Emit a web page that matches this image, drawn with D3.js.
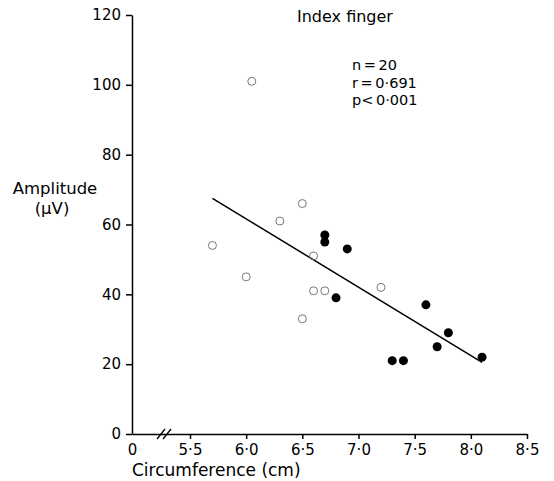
<!DOCTYPE html>
<html>
<head>
<meta charset="utf-8">
<script src="https://cdn.jsdelivr.net/npm/d3@7"></script>
<style>
    body { margin: 0; background: #fff; }
    text { font-family: "DejaVu Sans", sans-serif; fill: #000; }
    .axis path, .axis line { stroke: #000; stroke-width: 1.5; }
    .axis text { font-size: 15px; font-family: "DejaVu Sans", sans-serif; }
</style>
</head>
<body>
<svg width="554" height="481"></svg>
<script>
// Open circles (circumference cm, amplitude uV)
var openX = [6.05, 5.7, 6.0, 6.5, 6.3, 6.6, 6.6, 6.7, 6.5, 7.2];
var openY = [101, 54, 45, 66, 61, 51, 41, 41, 33, 42];
// Filled circles
var filledX = [6.7, 6.7, 6.9, 6.8, 7.6, 7.8, 7.7, 7.3, 7.4, 8.1];
var filledY = [57, 55, 53, 39, 37, 29, 25, 21, 21, 22];
// Regression line end points
var fitX = [5.7, 8.1];
var fitY = [67.5, 20.5];

var xTicks = [0, 5.5, 6.0, 6.5, 7.0, 7.5, 8.0, 8.5];
var yTicks = [0, 20, 40, 60, 80, 100, 120];
var statLines = ['n = 20', 'r = 0\u00b7691', 'p< 0\u00b7001'];

var svg = d3.select('svg');

// x axis is broken between 0 and 5.5
var x = d3.scaleLinear()
    .domain([0, 5.5, 8.5])
    .range([132, 190, 527]);
var y = d3.scaleLinear()
    .domain([0, 120])
    .range([434, 15]);

var fmt = function(d) { return d === 0 ? '0' : d.toFixed(1).replace('.', '\u00b7'); };

var xAxis = d3.axisBottom(x).tickValues(xTicks).tickFormat(fmt).tickSize(5).tickSizeOuter(0).tickPadding(5);
var yAxis = d3.axisLeft(y).tickValues(yTicks).tickFormat(d3.format('d')).tickSize(6).tickSizeOuter(0).tickPadding(5);

svg.append('g')
    .attr('class', 'axis')
    .attr('transform', 'translate(0,' + y(0) + ')')
    .call(xAxis)
    .call(g => g.selectAll('.tick').filter(d => d === 0).select('line').remove());

svg.append('g')
    .attr('class', 'axis')
    .attr('transform', 'translate(' + x(0) + ',0)')
    .call(yAxis);

// axis break marks
var bx = (x(0) + x(5.5)) / 2 + 3;
[-3, 3].forEach(function(o) {
    svg.append('line')
        .attr('x1', bx + o - 4).attr('y1', y(0) + 5)
        .attr('x2', bx + o + 4).attr('y2', y(0) - 5)
        .attr('stroke', '#000').attr('stroke-width', 1.3);
});

// regression line
svg.append('line')
    .attr('x1', x(fitX[0])).attr('y1', y(fitY[0]))
    .attr('x2', x(fitX[1])).attr('y2', y(fitY[1]))
    .attr('stroke', '#000').attr('stroke-width', 1.5);

svg.selectAll('.open')
    .data(d3.range(openX.length))
    .enter().append('circle')
    .attr('class', 'open')
    .attr('cx', i => x(openX[i]))
    .attr('cy', i => y(openY[i]))
    .attr('r', 4)
    .attr('fill', 'none')
    .attr('stroke', '#777')
    .attr('stroke-width', 1);

svg.selectAll('.filled')
    .data(d3.range(filledX.length))
    .enter().append('circle')
    .attr('class', 'filled')
    .attr('cx', i => x(filledX[i]))
    .attr('cy', i => y(filledY[i]))
    .attr('r', 4.5)
    .attr('fill', '#000');

// axis titles
svg.append('text')
    .attr('x', x(0))
    .attr('y', 476)
    .attr('font-size', 17)
    .text('Circumference (cm)');

svg.append('text')
    .attr('x', 55).attr('y', 194)
    .attr('text-anchor', 'middle')
    .attr('font-size', 16.5)
    .text('Amplitude');
svg.append('text')
    .attr('x', 52).attr('y', 214)
    .attr('text-anchor', 'middle')
    .attr('font-size', 16.5)
    .text('(\u00b5V)');

// title and stats
svg.append('text')
    .attr('x', 297).attr('y', 22)
    .attr('font-size', 16)
    .text('Index finger');

svg.selectAll('.stat')
    .data(statLines)
    .enter().append('text')
    .attr('class', 'stat')
    .attr('x', 352)
    .attr('y', (d, i) => 70 + i * 17.5)
    .attr('font-size', 14.5)
    .attr('word-spacing', -2)
    .text(d => d);
</script>
</body>
</html>
